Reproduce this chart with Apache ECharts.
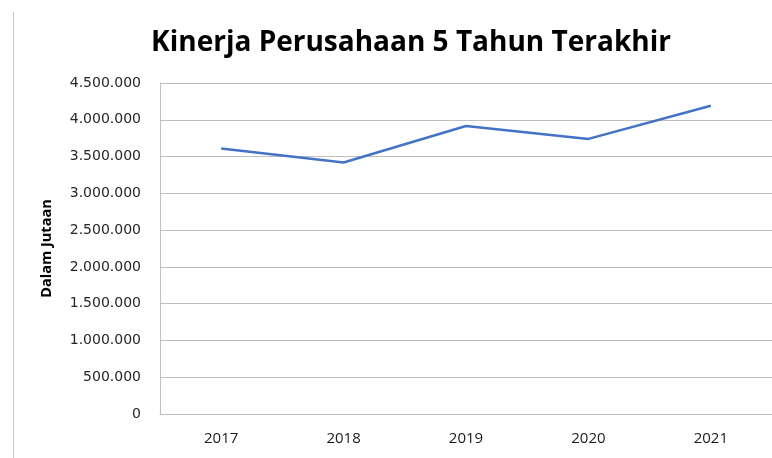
<!DOCTYPE html>
<html>
<head>
<meta charset="utf-8">
<script src="https://cdn.jsdelivr.net/npm/echarts@6/dist/echarts.min.js"></script>
<style>
  html, body { margin: 0; padding: 0; background: #fff; }
  #main { width: 772px; height: 458px; }
</style>
</head>
<body>
<div id="main"></div>
<script>
// data
const years = ["2017", "2018", "2019", "2020", "2021"];
const kinerja = [3610000, 3420000, 3915000, 3740000, 4190000];

// 4500000 -> "4.500.000"
function titik(v) {
  return String(v).replace(/\B(?=(\d{3})+(?!\d))/g, ".");
}

const chart = echarts.init(document.getElementById("main"));
chart.setOption({
  animation: false,
  title: {
    text: "Kinerja Perusahaan 5 Tahun Terakhir",
    left: 406,
    textAlign: "center",
    top: 24,
    textStyle: { fontFamily: "Open Sans", fontWeight: "bold", fontSize: 28, color: "#000" }
  },
  graphic: [
    { type: "line", shape: { x1: 13.5, y1: 12, x2: 13.5, y2: 458 }, style: { stroke: "#c8c8c8", lineWidth: 1 } }
  ],
  grid: { left: 160, top: 83, width: 620, height: 331 },
  xAxis: {
    type: "category",
    data: years,
    boundaryGap: true,
    axisTick: { show: false },
    axisLine: { lineStyle: { color: "#bfbfbf", width: 1 } },
    axisLabel: { margin: 17, fontFamily: "Open Sans", fontSize: 15, color: "#1a1a1a" }
  },
  yAxis: {
    type: "value",
    min: 0,
    max: 4500000,
    interval: 500000,
    name: "Dalam Jutaan",
    nameLocation: "middle",
    nameGap: 106,
    nameTextStyle: { fontFamily: "Open Sans", fontWeight: "bold", fontSize: 14.5, color: "#000" },
    axisLine: { show: true, lineStyle: { color: "#bfbfbf", width: 1 } },
    axisTick: { show: false },
    splitLine: { lineStyle: { color: "#bfbfbf", width: 1 } },
    axisLabel: { margin: 19, fontFamily: "DejaVu Sans", fontSize: 14, color: "#262626", formatter: titik }
  },
  series: [{
    type: "line",
    data: kinerja,
    symbol: "none",
    lineStyle: { color: "#4472C4", width: 2.5 }
  }]
});
</script>
</body>
</html>
